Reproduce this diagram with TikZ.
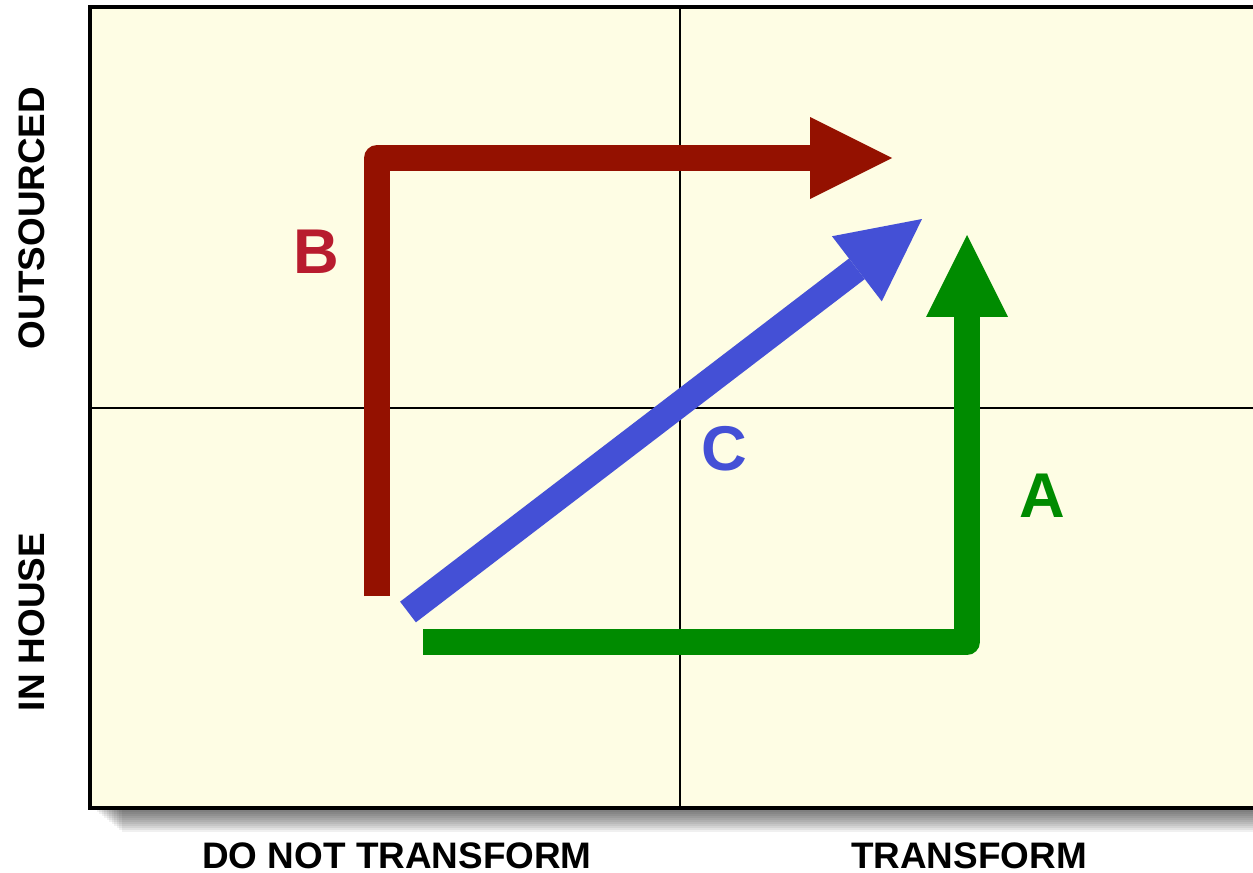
\documentclass[tikz,border=0pt]{standalone}
\usepackage{fontspec}
\setmainfont{Liberation Sans}
\usetikzlibrary{arrows.meta,positioning}
\definecolor{paper}{RGB}{254,253,228}
\definecolor{darkred}{RGB}{148,17,0}
\definecolor{labelred}{RGB}{184,28,46}
\definecolor{arrowgreen}{RGB}{0,139,0}
\definecolor{arrowblue}{RGB}{68,80,214}

\begin{document}
\begin{tikzpicture}[
    x=0.02cm, y=-0.02cm,
    every node/.style={font=\bfseries},
    fatarrow/.style={line width=0.52cm, line join=round, -{Triangle[length=1.64cm, width=1.64cm, line width=0pt]}},
    letter/.style={font=\fontsize{36}{36}\selectfont\bfseries},
    axislabel/.style={font=\fontsize{21}{21}\selectfont\bfseries, inner sep=0pt}
  ]
    \clip (0,0) rectangle (1253,872);
    \fill[white] (0,0) rectangle (1253,872);

    % soft shadow under the grid
    \foreach \i in {0,...,11}
      \fill[black, opacity=0.06] (94+2.5*\i,800) rectangle (1270,810+2*\i);

    % grid
    \draw[line width=0.08cm, fill=paper] (90,7) rectangle (1270,808);
    \draw[line width=0.04cm] (680,7) -- (680,808);
    \draw[line width=0.04cm] (90,408) -- (1270,408);

    % paths
    \coordinate (bstart) at (377,596);
    \coordinate (bend) at (892,158);
    \coordinate (astart) at (423,642);
    \coordinate (aend) at (967,235);
    \coordinate (cstart) at (408,612);
    \coordinate (cend) at (922,219);

    \draw[fatarrow, darkred] (bstart) |- (bend);
    \draw[fatarrow, arrowgreen] (astart) -| (aend);
    \draw[fatarrow, arrowblue] (cstart) -- (cend);

    \node[letter, labelred] (lb) at (316,252) {B};
    \node[letter, arrowblue] (lc) at (724,449) {C};
    \node[letter, arrowgreen] (la) at (1042,496) {A};

    \node[axislabel, rotate=90] (out) at (32,218) {OUTSOURCED};
    \node[axislabel, rotate=90] (inh) at (32,622) {IN HOUSE};
    \node[axislabel] (dnt) at (397,856) {DO NOT TRANSFORM};
    \node[axislabel] (tr) at (969,856) {TRANSFORM};
  \end{tikzpicture}
\end{document}
